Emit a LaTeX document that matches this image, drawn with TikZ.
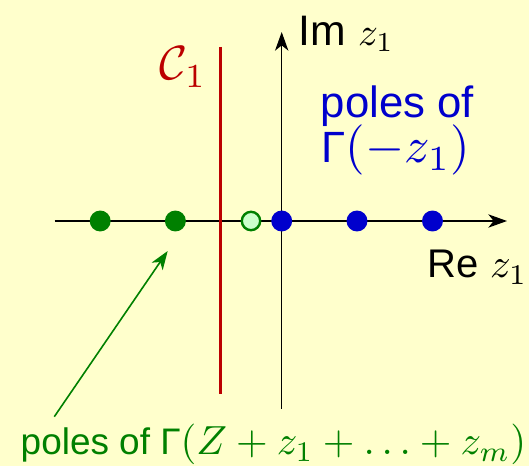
\documentclass[tikz,border=0pt]{standalone}
\usepackage[no-math]{fontspec}
\setmainfont{Liberation Sans}
\usetikzlibrary{arrows.meta}
\definecolor{bg}{RGB}{255,255,204}
\definecolor{dgreen}{RGB}{0,128,0}
\definecolor{lgreen}{RGB}{204,255,204}
\definecolor{dblue}{RGB}{0,0,204}
\definecolor{dred}{RGB}{187,0,0}
\newcommand{\mm}[2]{\scalebox{#1}{$#2$}}
\begin{document}
\begin{tikzpicture}[x=0.75pt,y=-0.75pt,
  lbl/.style={inner sep=0pt,anchor=base west,scale=#1},
  gdot/.style={circle,fill=dgreen,inner sep=0pt,minimum size=15.7pt},
  bdot/.style={circle,fill=dblue,inner sep=0pt,minimum size=15.7pt},
  odot/.style={circle,fill=lgreen,draw=dgreen,line width=1.8pt,inner sep=0pt,minimum size=13.8pt},
  axis/.style={line width=1pt,-{Stealth[length=14pt,width=10pt,inset=4pt]}}]
\useasboundingbox[fill=bg] (0,0) rectangle (529,466);
% axes
\coordinate (xs) at (54.5,221);
\coordinate (xe) at (507,221);
\coordinate (ys) at (281.7,409);
\coordinate (ye) at (281.7,32);
\draw[axis] (xs) -- (xe);
\draw[axis] (ys) -- (ye);
% contour
\coordinate (cs) at (220.7,47);
\coordinate (ce) at (220.7,394);
\draw[dred,line width=2.2pt] (cs) -- (ce);
% poles
\node[gdot] (g1) at (100.2,221) {};
\node[gdot] (g2) at (175.4,221) {};
\node[odot] (g0) at (251,221) {};
\node[bdot] (b0) at (281.7,221) {};
\node[bdot] (b1) at (357,221) {};
\node[bdot] (b2) at (432.5,221) {};
% labels
\node[lbl=3.2] (im) at (298,46) {Im \mm{0.92}{z_1}};
\node[lbl=3.0] (re) at (427,278) {Re \mm{1.02}{z_1}};
\node[lbl=3.6,text=dred] (c1) at (159,80) {$\mathcal{C}_1$};
\node[lbl=3.28,text=dblue] (bl1) at (320,118) {poles of};
\node[lbl=3.28,text=dblue] (bl2) at (321,163) {Γ\mm{1.15}{(-z_1)}};
\node[lbl=2.77,text=dgreen] (gl) at (20,455) {poles of Γ\mm{1.1}{(Z+z_1+\ldots+z_m)}};
% green arrow
\coordinate (as) at (54.3,416.7);
\coordinate (ae) at (167.7,251);
\draw[dgreen,line width=1.2pt,-{Stealth[length=14pt,width=10pt,inset=4pt]}] (as) -- (ae);
\end{tikzpicture}
\end{document}
